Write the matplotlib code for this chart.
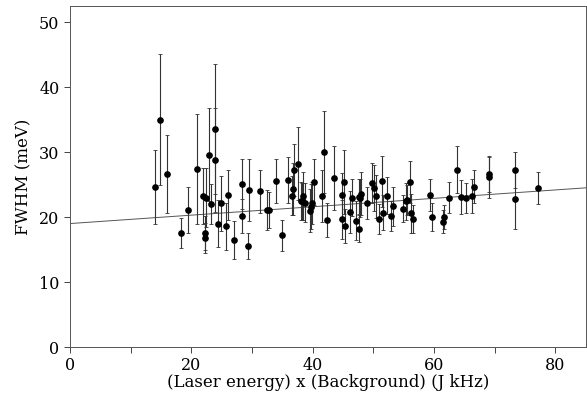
import numpy as np
import matplotlib.pyplot as plt

plt.rcParams['font.family'] = ['DejaVu Serif']

# (Laser energy) x (Background), FWHM and error half-width
energy = [14.1, 14.85, 16.0, 18.3, 19.4, 20.95, 21.9, 22.4, 22.2, 22.2,
          23.0, 23.9, 23.9, 23.2, 24.4, 24.9, 25.7, 26.1, 27.1, 28.3,
          28.4, 29.3, 29.5, 31.3, 32.4, 32.8, 33.9, 35.0, 35.9, 36.7,
          37.0, 37.6, 38.1, 38.4, 38.7, 39.6, 39.8, 39.95, 40.2, 41.5,
          41.9, 42.4, 43.5, 44.8, 45.1, 44.8, 45.4, 46.1, 46.4, 47.2,
          47.6, 47.8, 48.0, 48.9, 49.8, 50.1, 50.4, 51.0, 51.5, 51.6,
          52.3, 52.95, 53.3, 54.9, 55.3, 55.6, 56.1, 56.2, 56.5, 59.4,
          59.6, 61.4, 61.6, 62.4, 63.8, 64.5, 65.2, 66.2, 66.6, 69.0,
          69.0, 73.4, 73.3, 77.1, 36.6, 38.2, 47.7]
fwhm = [24.6, 35.0, 26.7, 17.6, 21.1, 27.4, 23.3, 23.0, 17.6, 16.8,
        29.6, 33.6, 28.8, 22.0, 19.0, 22.1, 18.6, 23.4, 16.5, 25.1,
        20.2, 15.6, 24.2, 24.0, 21.1, 21.1, 25.6, 17.2, 25.7, 24.3,
        27.2, 28.2, 22.5, 23.2, 22.2, 21.0, 21.6, 22.2, 25.4, 23.3,
        30.0, 19.6, 26.0, 23.4, 25.4, 19.7, 18.6, 20.8, 23.0, 19.4,
        18.2, 22.9, 23.6, 22.2, 25.2, 24.5, 23.2, 19.7, 25.5, 20.7,
        23.3, 20.2, 21.7, 21.3, 22.4, 22.6, 25.4, 20.6, 19.7, 23.4,
        20.0, 19.3, 20.0, 23.0, 27.3, 23.1, 23.0, 23.3, 24.7, 26.6,
        26.1, 27.2, 22.8, 24.5, 23.3, 22.4, 23.1]
err = [5.7, 10.1, 6.0, 2.3, 3.6, 8.5, 4.3, 4.6, 2.6, 2.3,
       7.2, 10.0, 8.0, 3.1, 3.6, 4.2, 3.6, 3.8, 2.9, 3.9,
       2.6, 2.0, 4.8, 3.3, 3.1, 2.8, 3.4, 2.4, 3.5, 4.0,
       4.0, 5.6, 2.9, 3.7, 3.0, 3.3, 3.5, 3.2, 3.5, 4.0,
       6.3, 2.6, 4.9, 3.4, 4.9, 3.0, 2.6, 3.2, 2.9, 3.0,
       2.1, 2.9, 3.3, 2.5, 3.1, 3.5, 3.3, 2.3, 3.9, 2.7,
       2.9, 2.3, 3.0, 2.1, 2.8, 2.3, 3.3, 3.0, 2.1, 2.4,
       2.2, 1.8, 1.8, 2.4, 3.6, 2.6, 2.3, 2.6, 2.5, 2.8,
       3.1, 2.8, 4.6, 2.5, 3.0, 2.9, 2.7]

# straight-line fit drawn in the figure
fit_x = [0, 85]
fit_y = [19.0, 24.5]

fig = plt.figure(figsize=(5.87, 3.93), dpi=100)
ax = fig.add_axes([0.119, 0.117, 0.879, 0.868])

ax.plot(fit_x, fit_y, color='#555555', lw=0.7)
ax.errorbar(energy, fwhm, yerr=err, fmt='o', color='black', ms=3.8,
            ecolor='#333333', elinewidth=0.8, capsize=1.5, capthick=0.6)

ax.set_xlim(0, 85)
ax.set_ylim(0, 52.5)
ax.set_xticks(np.arange(0, 81, 10))
ax.set_xticklabels(['0', '', '20', '', '40', '', '60', '', '80'])
ax.set_yticks(np.arange(0, 51, 10))
ax.tick_params(direction='out', length=4, width=0.7, labelsize=11.5, color='#444444')
for s in ax.spines.values():
    s.set_linewidth(0.7)
    s.set_color('#555555')

ax.set_xlabel('(Laser energy) x (Background) (J kHz)', fontsize=12, labelpad=0)
ax.set_ylabel('FWHM (meV)', fontsize=12, labelpad=5)

fig.savefig('out.png', dpi=100)
